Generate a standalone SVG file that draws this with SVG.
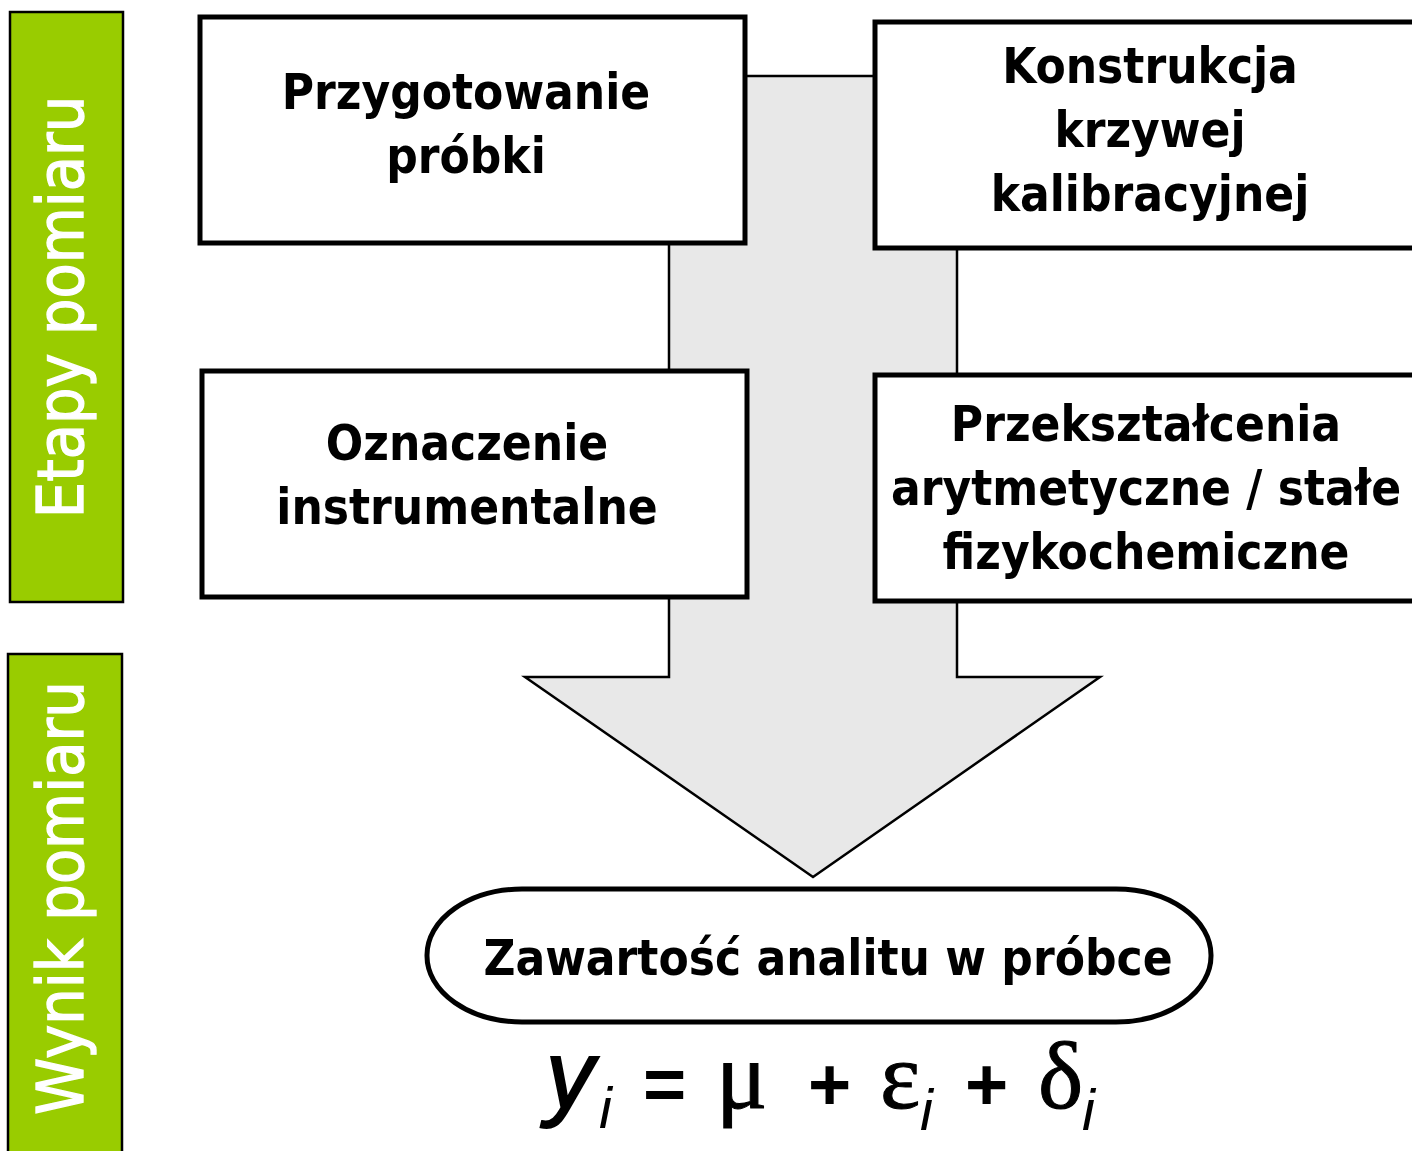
<svg xmlns="http://www.w3.org/2000/svg" width="1412" height="1151" viewBox="0 0 1412 1151">
<style>
.bar{fill:#99CC00;stroke:#000;stroke-width:2.5}
.bartxt{font-family:"DejaVu Sans Condensed","DejaVu Sans",sans-serif;font-stretch:condensed;font-size:64px;fill:#fff;stroke:#fff;stroke-width:1.3;text-anchor:middle}
.box{fill:#fff;stroke:#000;stroke-width:5}
.txt{font-family:"DejaVu Sans Condensed","DejaVu Sans",sans-serif;font-stretch:condensed;font-weight:bold;font-size:49px;fill:#000;text-anchor:middle}
.arrow{fill:#E8E8E8;stroke:#000;stroke-width:2.5;stroke-linejoin:miter}
.f{font-size:96px;fill:#000}
.op{font-family:"Liberation Sans",Arial,sans-serif;font-weight:bold;font-size:74px;fill:#000}
.sans{font-family:"Liberation Sans",Arial,sans-serif;stroke:#000;stroke-width:2}
.serif{font-family:"Liberation Serif","Times New Roman",serif;stroke:#000;stroke-width:1}
.sub{font-family:"Liberation Sans",Arial,sans-serif;font-style:italic;font-size:58px;fill:#000}
</style>
<g id="label-etapy">
<rect class="bar" x="10" y="12" width="113" height="590"/>
<text class="bartxt" transform="translate(83,307) rotate(-90)">Etapy pomiaru</text>
</g>
<g id="label-wynik">
<rect class="bar" x="8" y="654" width="114" height="510"/>
<text class="bartxt" transform="translate(83,898) rotate(-90)">Wynik pomiaru</text>
</g>
<g id="connectors">
<polygon class="arrow" points="669,76 957,76 957,677 1100,677 813,877 525,677 669,677"/>
</g>
<g id="node-przygotowanie">
<rect class="box" x="200" y="17" width="545" height="226"/>
<text class="txt" x="466" y="109">Przygotowanie</text>
<text class="txt" x="466" y="173">próbki</text>
</g>
<g id="node-konstrukcja">
<rect class="box" x="875" y="22" width="560" height="226"/>
<text class="txt" x="1150" y="83">Konstrukcja</text>
<text class="txt" x="1150" y="147">krzywej</text>
<text class="txt" x="1150" y="211">kalibracyjnej</text>
</g>
<g id="node-oznaczenie">
<rect class="box" x="202" y="371" width="545" height="226"/>
<text class="txt" x="467" y="460">Oznaczenie</text>
<text class="txt" x="467" y="524">instrumentalne</text>
</g>
<g id="node-przeksztalcenia">
<rect class="box" x="875" y="375" width="560" height="226"/>
<text class="txt" x="1146" y="441">Przekształcenia</text>
<text class="txt" x="1146" y="505">arytmetyczne / stałe</text>
<text class="txt" x="1146" y="569">fizykochemiczne</text>
</g>
<g id="node-zawartosc">
<rect class="box" x="427" y="889" width="784" height="133" rx="95" ry="66"/>
<text class="txt" x="828" y="975">Zawartość analitu w próbce</text>
</g>
<g id="formula">
<text class="f sans" x="546" y="1108" font-style="italic">y</text>
<text class="sub" x="599" y="1128">i</text>
<text class="op" x="643" y="1110">=</text>
<text class="f serif" x="716" y="1108">μ</text>
<text class="op" x="808" y="1110">+</text>
<text class="f serif" x="880" y="1108">ε</text>
<text class="sub" x="920" y="1130">i</text>
<text class="op" x="965" y="1110">+</text>
<text class="f serif" x="1038" y="1108">δ</text>
<text class="sub" x="1082" y="1130">i</text>
</g>
</svg>
